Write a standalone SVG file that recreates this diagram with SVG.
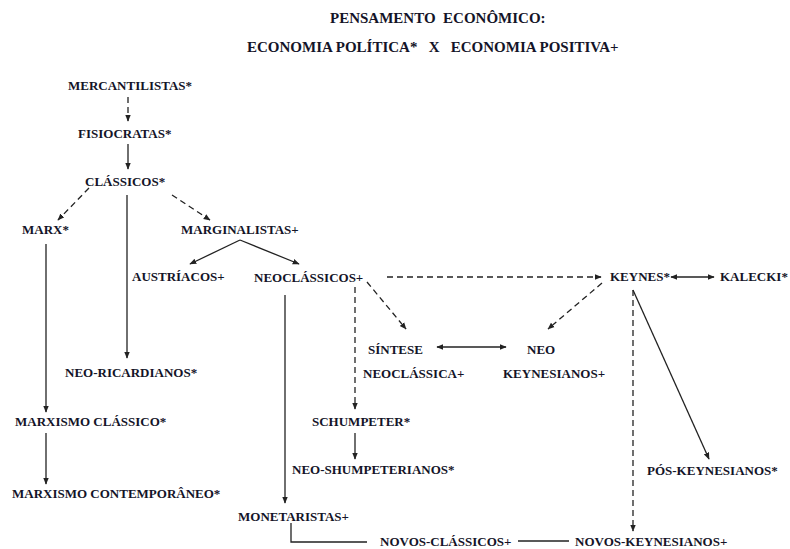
<svg xmlns="http://www.w3.org/2000/svg" width="790" height="549" viewBox="0 0 790 549">
<defs>
<style>
text{font-family:"Liberation Serif","Times New Roman",serif;font-weight:bold;font-size:13px;fill:#141428}
.title{font-size:15px}
.c{stroke:#222;stroke-width:1.3;fill:none}
.d{stroke-dasharray:6,4}
.a{marker-end:url(#ah)}
.b{marker-start:url(#ah);marker-end:url(#ah)}
</style>
<marker id="ah" markerUnits="userSpaceOnUse" viewBox="0 0 10 10" refX="9" refY="5" markerWidth="7" markerHeight="7" orient="auto-start-reverse">
<path d="M0,1 L10,5 L0,9 Z" fill="#222"/>
</marker>
</defs>
<rect width="790" height="549" fill="#fff"/>
<g id="title">
<text class="title" x="330" y="23" xml:space="preserve">PENSAMENTO  ECONÔMICO:</text>
<text class="title" x="247" y="52" xml:space="preserve">ECONOMIA POLÍTICA*   X   ECONOMIA POSITIVA+</text>
</g>
<g id="connectors">
<line class="c d a" x1="128" y1="97" x2="128" y2="121"/>
<line class="c a" x1="128" y1="144" x2="128" y2="169"/>
<line class="c d a" x1="89" y1="188" x2="58" y2="220"/>
<line class="c d a" x1="172" y1="195" x2="210" y2="220"/>
<line class="c a" x1="127" y1="195" x2="127" y2="358"/>
<line class="c a" x1="46" y1="244" x2="46" y2="412"/>
<line class="c a" x1="46" y1="433" x2="46" y2="484"/>
<line class="c a" x1="240" y1="240" x2="190" y2="264"/>
<line class="c a" x1="240" y1="240" x2="299" y2="264"/>
<line class="c d a" x1="387" y1="277" x2="601" y2="277"/>
<line class="c d a" x1="367" y1="282" x2="406" y2="329"/>
<line class="c d a" x1="355" y1="287" x2="355" y2="409"/>
<line class="c a" x1="285" y1="295" x2="285" y2="503"/>
<line class="c a" x1="355" y1="433" x2="355" y2="459"/>
<line class="c d a" x1="602" y1="283" x2="548" y2="329"/>
<line class="c b" x1="437" y1="347" x2="506" y2="347"/>
<line class="c b" x1="671" y1="277" x2="714" y2="277"/>
<line class="c d a" x1="633" y1="290" x2="633" y2="531"/>
<line class="c a" x1="633" y1="290" x2="709" y2="459"/>
<polyline class="c" points="291,523 291,542 367,542"/>
<line class="c" x1="518" y1="541" x2="569" y2="541"/>
</g>
<g id="mercantilistas"><text x="68" y="90">MERCANTILISTAS*</text></g>
<g id="fisiocratas"><text x="78" y="138">FISIOCRATAS*</text></g>
<g id="classicos"><text x="85" y="186">CLÁSSICOS*</text></g>
<g id="marx"><text x="22" y="234">MARX*</text></g>
<g id="marginalistas"><text x="181" y="234">MARGINALISTAS+</text></g>
<g id="austriacos"><text x="132" y="281">AUSTRÍACOS+</text></g>
<g id="neoclassicos"><text x="254" y="282">NEOCLÁSSICOS+</text></g>
<g id="keynes"><text x="610" y="281">KEYNES*</text></g>
<g id="kalecki"><text x="720" y="281">KALECKI*</text></g>
<g id="sintese"><text x="368" y="354">SÍNTESE</text><text x="363" y="378">NEOCLÁSSICA+</text></g>
<g id="neokeynesianos"><text x="527" y="354">NEO</text><text x="503" y="378">KEYNESIANOS+</text></g>
<g id="neoricardianos"><text x="65" y="377">NEO-RICARDIANOS*</text></g>
<g id="marxismoclassico"><text x="15" y="426">MARXISMO CLÁSSICO*</text></g>
<g id="schumpeter"><text x="312" y="426">SCHUMPETER*</text></g>
<g id="neoshumpeterianos"><text x="292" y="474">NEO-SHUMPETERIANOS*</text></g>
<g id="poskeynesianos"><text x="647" y="475">PÓS-KEYNESIANOS*</text></g>
<g id="marxismocontemporaneo"><text x="12" y="498">MARXISMO CONTEMPORÂNEO*</text></g>
<g id="monetaristas"><text x="238" y="521">MONETARISTAS+</text></g>
<g id="novosclassicos"><text x="380" y="546">NOVOS-CLÁSSICOS+</text></g>
<g id="novoskeynesianos"><text x="575" y="546">NOVOS-KEYNESIANOS+</text></g>
</svg>
